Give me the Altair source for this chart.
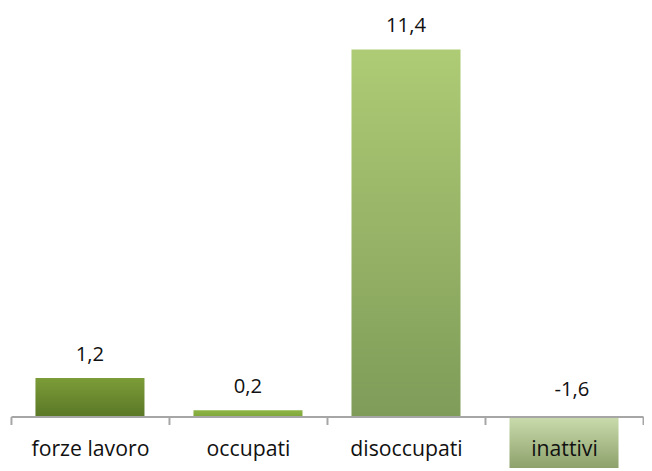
import altair as alt
import pandas as pd

categories = ["forze lavoro", "occupati", "disoccupati", "inattivi"]
values = [1.2, 0.2, 11.4, -1.6]
top_colors = ["#7c9c39", "#8db544", "#aecb75", "#cadcad"]
bottom_colors = ["#5a7826", "#80a63b", "#7f9c59", "#8da16c"]

df = pd.DataFrame({"cat": categories, "value": values})

W = 640
H = 463
Y_MIN, Y_MAX = -1.6, 12.6
zero_px = H * Y_MAX / (Y_MAX - Y_MIN)
axis_offset = -(H - zero_px)

FONT = "Open Sans"

x_enc = alt.X(
    "cat:N",
    sort=categories,
    scale=alt.Scale(paddingInner=0, paddingOuter=0),
    axis=alt.Axis(
        title=None,
        orient="bottom",
        offset=axis_offset,
        domainColor="#a6a6a6",
        domainWidth=2,
        tickColor="#a6a6a6",
        tickWidth=2,
        tickSize=8,
        tickBand="extent",
        labelFont=FONT,
        labelFontSize=21.5,
        labelColor="#111111",
        labelPadding=31,
        labelBaseline="alphabetic",
        labelAngle=0,
        grid=False,
        zindex=1,
    ),
)
y_scale = alt.Scale(domain=[Y_MIN, Y_MAX], nice=False, zero=False)

base = alt.Chart(df).transform_calculate(
    label="replace(replace(format(datum.value, '.1f'), '.', ','), '\u2212', '-')"
)

layers = []
for cat, c_top, c_bot in zip(categories, top_colors, bottom_colors):
    layers.append(
        base.transform_filter(alt.datum.cat == cat)
        .mark_bar(
            width=alt.RelativeBandSize(0.69),
            clip=True,
            color=alt.Gradient(
                gradient="linear",
                stops=[
                    alt.GradientStop(color=c_top, offset=0),
                    alt.GradientStop(color=c_bot, offset=1),
                ],
                x1=0, x2=0, y1=0, y2=1,
            ),
        )
        .encode(x=x_enc, y=alt.Y("value:Q", scale=y_scale, axis=None), y2=alt.datum(0))
    )

pos_text = (
    base.transform_filter("datum.value >= 0")
    .mark_text(dy=-17.5, baseline="alphabetic", font=FONT, fontSize=20.5, color="#111111")
    .encode(x=x_enc, y=alt.Y("value:Q", scale=y_scale, axis=None), text="label:N")
)
neg_text = (
    base.transform_filter("datum.value < 0")
    .mark_text(dy=-21, dx=8, baseline="alphabetic", font=FONT, fontSize=20.5, color="#111111")
    .encode(x=x_enc, y=alt.datum(0, scale=y_scale), text="label:N")
)

chart = (
    alt.layer(*layers, pos_text, neg_text)
    .properties(width=W, height=H, padding={"left": 2, "top": 0, "right": 0, "bottom": 0})
    .configure_view(stroke=None)
)

chart.save("out.html", embed_options={"renderer": "svg", "actions": False})
